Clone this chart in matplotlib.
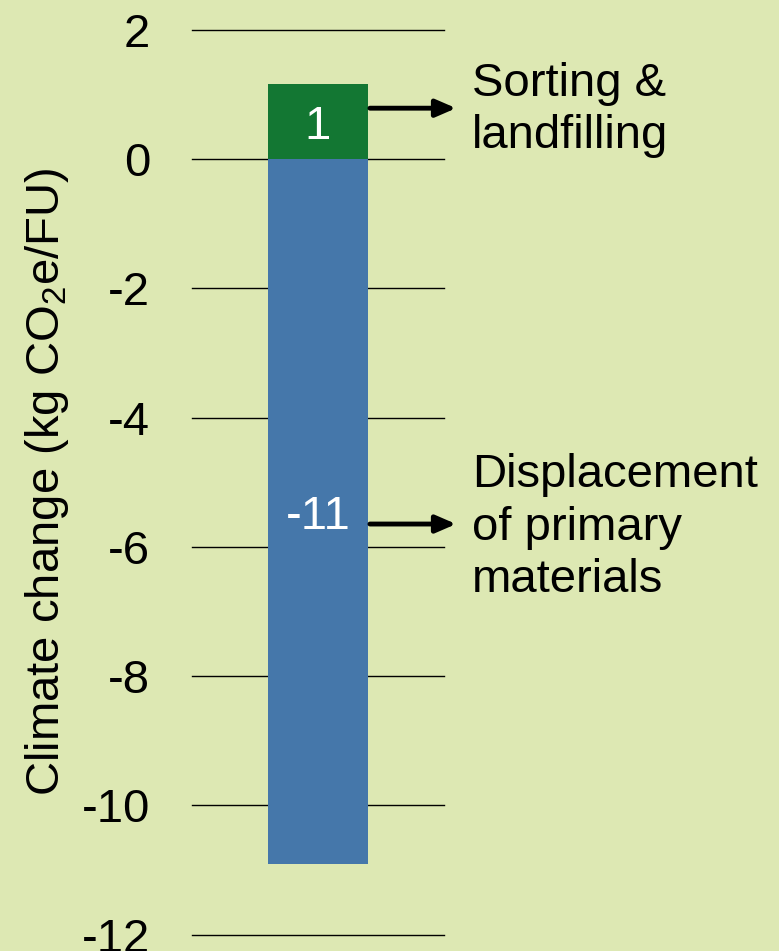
import matplotlib
matplotlib.use("Agg")
import matplotlib.pyplot as plt

plt.rcParams['font.family'] = ['Liberation Sans', 'DejaVu Sans']
plt.rcParams['mathtext.fontset'] = 'custom'
plt.rcParams['mathtext.rm'] = 'Liberation Sans'
plt.rcParams['mathtext.it'] = 'Liberation Sans'

# Stages of the life cycle and their climate change contributions
stages = ["Sorting & landfilling", "Displacement of primary materials"]
stage_labels = ["Sorting &\nlandfilling", "Displacement\nof primary\nmaterials"]
values = [1.16, -10.9]
value_labels = ["1", "-11"]
colors = ["#137733", "#4577aa"]
yticks = [2, 0, -2, -4, -6, -8, -10, -12]

bg = "#dde8b3"
fig = plt.figure(figsize=(7.79, 9.51), dpi=100, facecolor=bg)
ax = fig.add_axes([192/779, 1 - 934.7/951, 252/779, (934.7 - 30)/951])
ax.set_facecolor(bg)

ax.set_xlim(-0.5, 0.5)
ax.set_ylim(-12, 2)
ax.set_yticks(yticks)
ax.set_yticklabels([str(t) for t in yticks])
ax.set_xticks([])
for s in ax.spines.values():
    s.set_visible(False)
ax.tick_params(axis='y', length=0, pad=30, labelsize=34)
ax.grid(axis='y', color='black', linewidth=1.0)
for gl in ax.get_ygridlines():
    gl.set_clip_on(False)
ax.set_axisbelow(True)

bar_w = 0.4
label_drop = 0.27  # half the digit height, in data units
for v, lab, c in zip(values, value_labels, colors):
    ax.bar(0, v, width=bar_w, color=c, zorder=2)
    ax.text(0, v / 2 - label_drop, lab, color="white", ha="center",
            va="baseline", fontsize=34, zorder=3)

# Arrows pointing from each segment to its description
arrow_y = [0.79, -5.645]
text_top = [1.506, -4.546]
for ay, ty, lab in zip(arrow_y, text_top, stage_labels):
    ax.annotate("", xy=(0.548, ay), xytext=(bar_w / 2 + 0.006, ay),
                arrowprops=dict(arrowstyle="-|>,head_length=12,head_width=5.2",
                                color="black", lw=3.5, mutation_scale=1,
                                shrinkA=0, shrinkB=0),
                annotation_clip=False, zorder=4)
    ax.text(0.612, ty, lab, ha="left", va="top", fontsize=34,
            linespacing=1.25, clip_on=False)

ax.set_ylabel("Climate change (kg CO$_2$e/FU)", fontsize=34, labelpad=8)

fig.savefig("out.png", dpi=100, facecolor=bg)
